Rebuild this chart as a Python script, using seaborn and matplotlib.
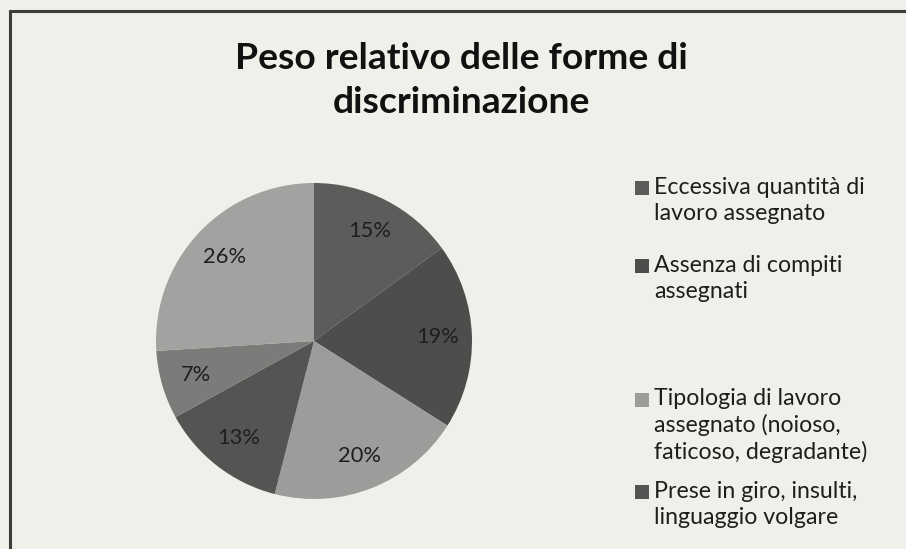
import matplotlib
matplotlib.use("Agg")
import matplotlib.pyplot as plt
import seaborn as sns
from matplotlib.patches import Rectangle, Patch
from matplotlib.legend_handler import HandlerPatch

# ---------------- data ----------------
title = "Peso relativo delle forme di\ndiscriminazione"
categories = [
    "Eccessiva quantità di\nlavoro assegnato",
    "Assenza di compiti\nassegnati",
    "Tipologia di lavoro\nassegnato (noioso,\nfaticoso, degradante)",
    "Prese in giro, insulti,\nlinguaggio volgare",
    "",  # legend entry not visible in the picture
    "",  # legend entry not visible in the picture
]
shares = [15, 19, 20, 13, 7, 26]
slice_colors = ["#5c5d5b", "#4d4e4c", "#9c9d9a", "#545553", "#7b7c79", "#a2a3a0"]
n_legend = 4

# ---------------- style ----------------
sns.set_theme(style="white")
plt.rcParams["font.family"] = ["Lato", "DejaVu Sans"]

W, H, DPI = 906, 549, 100
BG = "#eef0ea"
fig = plt.figure(figsize=(W / DPI, H / DPI), dpi=DPI, facecolor=BG)
renderer = fig.canvas.get_renderer()


def px_width(s, size, weight="normal"):
    t = fig.text(0, 0, s, fontsize=size, fontweight=weight)
    w = t.get_window_extent(renderer).width
    t.remove()
    return w


def fit(s, target, weight="normal"):
    return 20 * target / px_width(s, 20, weight)


def line_step(size, weight, ls):
    t1 = fig.text(0, 0, "lp", fontsize=size, fontweight=weight, linespacing=ls)
    t2 = fig.text(0, 0, "lp\nlp", fontsize=size, fontweight=weight, linespacing=ls)
    d = t2.get_window_extent(renderer).height - t1.get_window_extent(renderer).height
    t1.remove()
    t2.remove()
    return d


def ls_for(size, weight, target):
    a = line_step(size, weight, 1.0)
    b = line_step(size, weight, 2.0)
    return 1.0 + (target - a) / (b - a)


def lp_metrics(size, weight="normal"):
    t = fig.text(0, 0, "lp", fontsize=size, fontweight=weight)
    _, h, d = renderer.get_text_width_height_descent("lp", t.get_fontproperties(), ismath=False)
    t.remove()
    return h - d, d


# ---------------- title ----------------
t_size = fit("Peso relativo delle forme di", 454, "bold")
t_ls = ls_for(t_size, "bold", 44)
t_asc, _ = lp_metrics(t_size, "bold")
fig.text(461 / W, 1 - (69 - t_asc) / H, title, ha="center", va="top",
         multialignment="center", fontsize=t_size, fontweight="bold",
         linespacing=t_ls, color="#111111")

# ---------------- pie ----------------
cx, cy, R = 314, 341, 158
ax = fig.add_axes([(cx - R) / W, 1 - (cy + R) / H, 2 * R / W, 2 * R / H])
lab_size = fit("15%", 43)
wedges, texts, autotexts = ax.pie(
    shares, colors=slice_colors, startangle=90, counterclock=False,
    autopct=lambda p: f"{p:.0f}%", pctdistance=0.78, radius=1,
    wedgeprops=dict(linewidth=0),
    textprops=dict(fontsize=lab_size, color="#1e1e1e"),
)
ax.set_xlim(-1, 1)
ax.set_ylim(-1, 1)
ax.set_aspect("equal")
ax.axis("off")

# ---------------- legend ----------------
class FirstLineSquare(HandlerPatch):
    def __init__(self, shift, side):
        super().__init__()
        self.shift = shift
        self.side = side

    def create_artists(self, legend, orig_handle, xdescent, ydescent,
                       width, height, fontsize, trans):
        p = Rectangle((-xdescent, self.shift), self.side, self.side)
        self.update_prop(p, orig_handle, legend)
        p.set_transform(trans)
        return [p]


leg_size = fit("Eccessiva quantità di", 212)
dy_px = 25.5
leg_ls = ls_for(leg_size, "normal", dy_px)
l_asc, l_desc = lp_metrics(leg_size)
side_pt = 14 * 72 / DPI
baselines = [194, 272, 405, 498]
for i in range(n_legend):
    nlines = categories[i].count("\n") + 1
    shift_pt = (0.5 * ((nlines - 1) * dy_px + l_desc) - 1) * 72 / DPI if nlines > 1 else 0
    handler = FirstLineSquare(shift_pt, side_pt)
    leg = fig.legend(
        handles=[Patch(facecolor=slice_colors[i], edgecolor="none")],
        labels=[categories[i]], loc="upper left",
        bbox_to_anchor=(635 / W, 1 - (baselines[i] - l_asc) / H),
        frameon=False, borderpad=0, borderaxespad=0,
        handlelength=side_pt / leg_size, handleheight=0.7,
        handletextpad=5 * 72 / DPI / leg_size, fontsize=leg_size,
        handler_map={Patch: handler},
    )
    for t in leg.get_texts():
        t.set_linespacing(leg_ls)
        t.set_color("#1e1e1e")

# ---------------- frame ----------------
fig.add_artist(Rectangle((10 / W, -0.05), 1.2, 1 - 11 / H + 0.05,
                         transform=fig.transFigure, fill=False,
                         edgecolor="#3c3c3c", linewidth=2.2, clip_on=False))

fig.savefig("out.png", dpi=DPI, facecolor=BG)
